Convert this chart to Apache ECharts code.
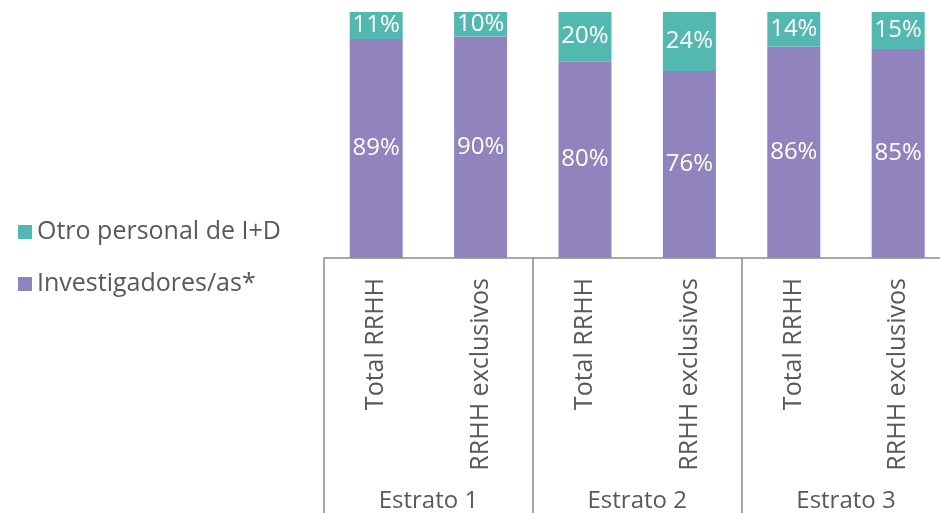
<!DOCTYPE html>
<html>
<head>
<meta charset="utf-8">
<script src="https://cdn.jsdelivr.net/npm/echarts@6/dist/echarts.min.js"></script>
<style>
  html, body { margin: 0; padding: 0; background: #fff; }
  #chart { width: 940px; height: 513px; }
</style>
</head>
<body>
<div id="chart"></div>
<script>
// categories
const barLabels = ['Total RRHH', 'RRHH exclusivos', 'Total RRHH', 'RRHH exclusivos', 'Total RRHH', 'RRHH exclusivos']
const groupLabels = ['Estrato 1', 'Estrato 2', 'Estrato 3']
// series values (%)
const investigadores = [89, 90, 80, 76, 86, 85]
const otroPersonal = [11, 10, 20, 24, 14, 15]

const FONT = 'Open Sans'
const TEXT = '#595959'
const LINE = '#8c8c8c'

const chart = echarts.init(document.getElementById('chart'))

const option = {
  animation: false,
  textStyle: { fontFamily: FONT },
  legend: {
    orient: 'vertical',
    left: 13,
    top: 213,
    itemWidth: 14,
    itemHeight: 14,
    itemGap: 24,
    icon: 'rect',
    data: ['Otro personal de I+D', 'Investigadores/as*'],
    textStyle: { fontFamily: FONT, fontSize: 25, color: TEXT, lineHeight: 28 }
  },
  // the plot runs past the right edge of the picture, as in the original
  grid: { left: 324, top: 12, width: 626.4, bottom: 255, containLabel: false, outerBoundsMode: 'none' },
  xAxis: [
    {
      type: 'category',
      data: barLabels,
      axisLine: { show: true, lineStyle: { color: LINE, width: 1.5 } },
      axisTick: { show: false },
      axisLabel: { rotate: 90, margin: 20, fontSize: 25, color: TEXT, fontFamily: FONT }
    },
    {
      type: 'category',
      data: groupLabels,
      position: 'bottom',
      axisLine: { show: false },
      axisTick: { show: true, length: 260, lineStyle: { color: LINE, width: 1.5 } },
      axisLabel: { margin: 231, fontSize: 24, color: TEXT, fontFamily: FONT }
    }
  ],
  yAxis: {
    type: 'value',
    min: 0,
    max: 100,
    show: false
  },
  series: [
    {
      name: 'Investigadores/as*',
      type: 'bar',
      stack: 'total',
      barWidth: 53,
      data: investigadores,
      itemStyle: { color: '#9183be' },
      label: { show: true, position: 'inside', formatter: '{c}%', color: '#fff', fontSize: 24, fontFamily: FONT }
    },
    {
      name: 'Otro personal de I+D',
      type: 'bar',
      stack: 'total',
      barWidth: 53,
      data: otroPersonal,
      itemStyle: { color: '#53b9b0' },
      label: { show: true, position: 'inside', formatter: '{c}%', color: '#fff', fontSize: 24, fontFamily: FONT }
    }
  ]
}

chart.setOption(option)
</script>
</body>
</html>
